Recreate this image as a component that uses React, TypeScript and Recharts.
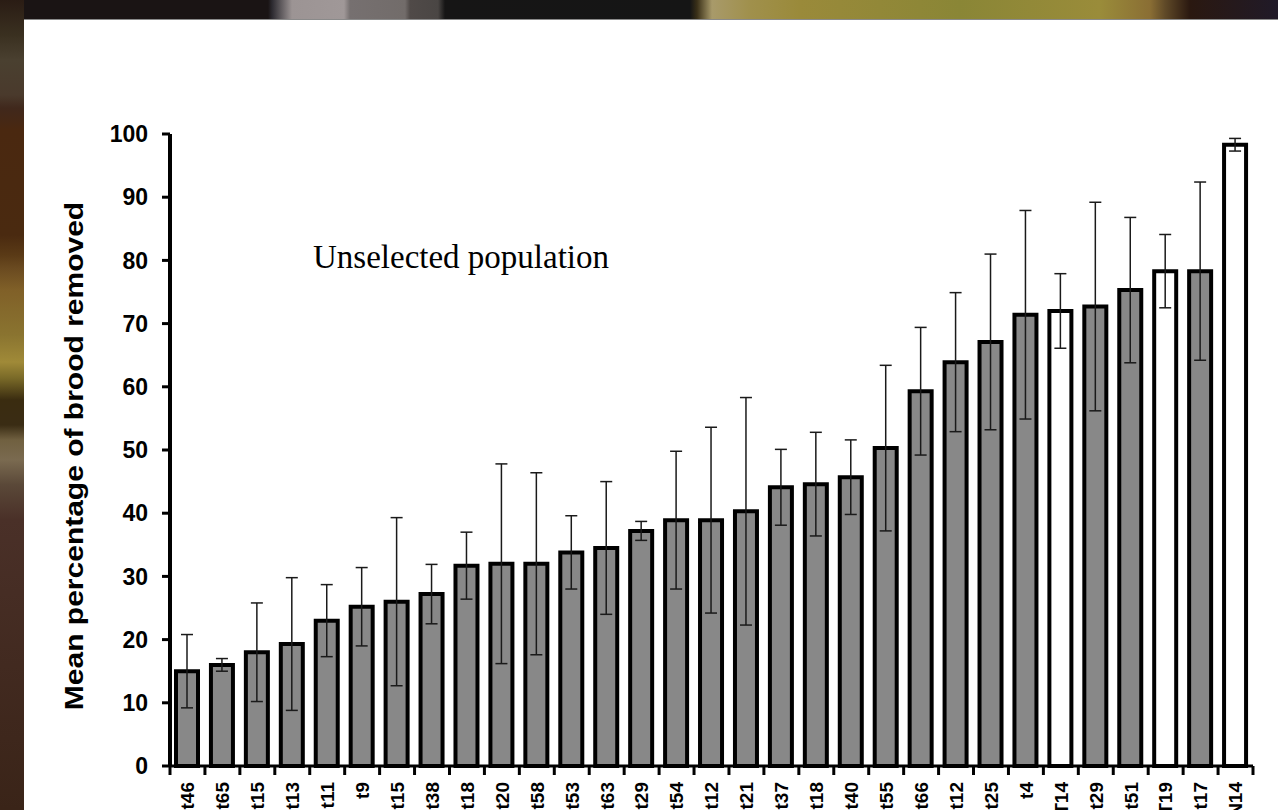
import React from 'react';
import { BarChart, Bar, XAxis, YAxis, ErrorBar, Cell, Customized } from 'recharts';

// colony labels along the x axis, left to right
const colonies = ['t46', 't65', 't15', 't13', 't11', 't9', 't15', 't38', 't18', 't20', 't58', 't53', 't63', 't29', 't54', 't12',
    't21', 't37', 't18', 't40', 't55', 't66', 't12', 't25', 't4', 'T14', 't29', 't51', 'T19', 't17', 'N14'];

// mean percentage of brood removed
const meanRemoved = [15, 16, 18, 19.3, 23, 25.2, 26, 27.2, 31.7, 32, 32, 33.8, 34.5, 37.2, 38.9, 38.9,
    40.3, 44.1, 44.6, 45.7, 50.3, 59.3, 63.9, 67.1, 71.4, 72, 72.7, 75.3, 78.3, 78.3, 98.3];

// error (+/-)
const errRemoved = [5.8, 1, 7.8, 10.5, 5.7, 6.2, 13.3, 4.7, 5.3, 15.8, 14.4, 5.8, 10.5, 1.5, 10.9, 14.7,
    18, 6, 8.2, 5.9, 13.1, 10.1, 11, 13.9, 16.5, 5.9, 16.5, 11.5, 5.8, 14.1, 1];

// bars drawn open (white) instead of grey
const openBars = ['T14', 'T19', 'N14'];

const yTicks = [0, 10, 20, 30, 40, 50, 60, 70, 80, 90, 100];

const W = 1278;
const H = 810;
const Y_W = 60;
const MARGIN = { top: 134, right: 25, left: 110, bottom: 14 };
const STEP = (W - MARGIN.left - Y_W - MARGIN.right) / colonies.length;

const data = colonies.map((name, i) => ({
    idx: i,
    name,
    value: meanRemoved[i],
    err: errRemoved[i],
}));

const SANS = '"Liberation Sans", Arial, sans-serif';

const XTick = (props: any) => {
    const { x, y, payload } = props;
    const i = payload.value as number;
    const half = STEP / 2;
    const ly = y + 16;
    return (
        <g>
            <line x1={x - half} x2={x - half} y1={y} y2={y + 9} stroke="#000" strokeWidth={3} />
            {i === colonies.length - 1 && (
                <line x1={x + half} x2={x + half} y1={y} y2={y + 9} stroke="#000" strokeWidth={3} />
            )}
            <text
                x={x}
                y={ly}
                dy="0.36em"
                transform={`rotate(-90, ${x}, ${ly})`}
                textAnchor="end"
                fontFamily={SANS}
                fontWeight="bold"
                fontSize={19}
                fill="#000"
            >
                {colonies[i]}
            </text>
        </g>
    );
};

const Notes = () => (
    <g>
        <text
            transform="translate(83, 456) rotate(-90) scale(1.2, 1)"
            textAnchor="middle"
            fontFamily={SANS}
            fontWeight="bold"
            fontSize={25}
            fill="#000"
        >
            Mean percentage of brood removed
        </text>
        <text x={313} y={268} fontFamily='"Liberation Serif", "Times New Roman", serif' fontSize={33} fill="#000">
            Unselected population
        </text>
    </g>
);

const frameTop = 'linear-gradient(to right, #2a1a0c 0px, #1a1414 20px, #1a1414 268px, #2c2a30 272px, #9c9494 292px, #a09898 344px, #767070 350px, #726c6a 405px, #504a48 410px, #4a4644 438px, #161515 445px, #151515 690px, #3a3018 697px, #a89a6a 712px, #a0904c 750px, #9a8a3a 800px, #8a8636 960px, #9a8c3a 1100px, #8a6e34 1150px, #604a28 1165px, #2a1810 1190px, #201a28 1278px)';
const frameLeft = 'linear-gradient(to bottom, #2a1c14 0px, #3a3020 35px, #4a4030 60px, #4a3a2c 95px, #40281c 108px, #4a2810 130px, #4a2a10 235px, #5a3a16 255px, #6a4a20 268px, #806028 290px, #8a7430 335px, #a08a38 362px, #7a6a28 378px, #3a2c10 400px, #3a2c14 425px, #706040 440px, #7a6a50 460px, #5a4838 485px, #4a3028 520px, #3a2418 810px)';

export default function App() {
    return (
        <div style={{ position: 'absolute', left: 0, top: 0, width: W, height: H, overflow: 'hidden', background: '#fff' }}>
            <div style={{ position: 'absolute', left: 0, top: 0, width: W, height: 19, background: frameTop }} />
            <div style={{ position: 'absolute', left: 0, top: 0, width: 24, height: H, background: frameLeft }} />
            <div style={{ position: 'absolute', left: 24, top: 19, width: W - 24, height: 1, background: '#8a8a8a' }} />
            <div style={{ position: 'absolute', left: 0, top: 0 }}>
                <BarChart width={W} height={H} data={data} margin={MARGIN}>
                    <XAxis
                        dataKey="idx"
                        type="category"
                        height={30}
                        axisLine={{ stroke: '#000', strokeWidth: 3 }}
                        tickLine={false}
                        tickSize={0}
                        tickMargin={0}
                        interval={0}
                        tick={<XTick />}
                    />
                    <YAxis
                        width={Y_W}
                        domain={[0, 100]}
                        ticks={yTicks}
                        interval={0}
                        axisLine={{ stroke: '#000', strokeWidth: 4 }}
                        tickLine={{ stroke: '#000', strokeWidth: 3 }}
                        tickSize={8}
                        tickMargin={14}
                        tick={{ fill: '#000', fontFamily: SANS, fontWeight: 'bold', fontSize: 23 }}
                    />
                    <Bar dataKey="value" barSize={22} stroke="#000" strokeWidth={4} isAnimationActive={false}>
                        {data.map((d) => (
                            <Cell key={d.idx} fill={openBars.includes(d.name) ? '#ffffff' : '#888888'} />
                        ))}
                        <ErrorBar dataKey="err" width={6} stroke="#1a1a1a" strokeWidth={1.5} isAnimationActive={false} />
                    </Bar>
                    <Customized component={Notes} />
                </BarChart>
            </div>
        </div>
    );
}
